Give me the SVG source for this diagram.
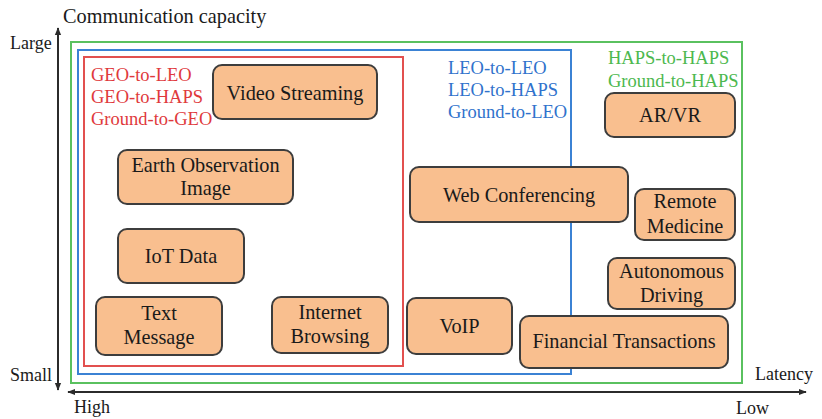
<svg xmlns="http://www.w3.org/2000/svg" width="822" height="419" viewBox="0 0 822 419" font-family="'Liberation Serif', 'DejaVu Serif', serif">
<defs>
<marker id="ah" viewBox="0 0 10 10" refX="9" refY="5" markerWidth="4" markerHeight="4" orient="auto-start-reverse" markerUnits="strokeWidth">
<path d="M0,1 L10,5 L0,9 z" fill="#2b2b2b"/>
</marker>
</defs>
<style>
.lbl{font-size:20.3px;fill:#1a1a1a;text-anchor:middle;}
.ax{font-size:18px;fill:#1a1a1a;}
.box{fill:#f9bf8f;stroke:#3d3d3d;stroke-width:2;}
.red{fill:#e0393c;font-size:18.5px;}
.blue{fill:#2f72cc;font-size:18.5px;}
.green{fill:#4cb84e;font-size:18.5px;}
.axis{stroke:#2b2b2b;stroke-width:2;fill:none;}
</style>
<rect width="822" height="419" fill="#ffffff"/>
<g id="regions">
<rect id="green-region" x="71" y="42" width="671" height="341" fill="none" stroke="#5ac15f" stroke-width="2"/>
<rect id="blue-region" x="78" y="50" width="493" height="324" fill="none" stroke="#3b82d4" stroke-width="2"/>
<rect id="red-region" x="84" y="57" width="319" height="309" fill="none" stroke="#e2504f" stroke-width="2"/>
</g>
<g id="region-labels">
<text class="red" x="91" y="81">GEO-to-LEO</text>
<text class="red" x="91" y="103">GEO-to-HAPS</text>
<text class="red" x="91" y="125">Ground-to-GEO</text>
<text class="blue" x="448" y="74">LEO-to-LEO</text>
<text class="blue" x="448" y="96">LEO-to-HAPS</text>
<text class="blue" x="448" y="118">Ground-to-LEO</text>
<text class="green" x="608" y="64">HAPS-to-HAPS</text>
<text class="green" x="608" y="87">Ground-to-HAPS</text>
</g>
<g id="connectors">
<line class="axis" x1="58" y1="390" x2="58" y2="28" marker-start="url(#ah)" marker-end="url(#ah)"/>
<line class="axis" x1="68" y1="392" x2="806" y2="392" marker-start="url(#ah)" marker-end="url(#ah)"/>
</g>
<g id="axis-labels">
<text class="ax" x="63" y="23" style="font-size:20.3px">Communication capacity</text>
<text class="ax" x="10" y="49">Large</text>
<text class="ax" x="10" y="381">Small</text>
<text class="ax" x="74" y="413">High</text>
<text class="ax" x="736" y="414">Low</text>
<text class="ax" x="755" y="380">Latency</text>
</g>
<g id="video-streaming"><rect class="box" x="213" y="65" width="164" height="54" rx="9"/><text class="lbl" x="295" y="100">Video Streaming</text></g>
<g id="earth-observation"><rect class="box" x="118" y="150" width="175" height="54" rx="9"/><text class="lbl" x="205.5" y="172">Earth Observation</text><text class="lbl" x="205.5" y="195">Image</text></g>
<g id="iot-data"><rect class="box" x="118" y="229" width="126" height="54" rx="9"/><text class="lbl" x="181" y="263">IoT Data</text></g>
<g id="text-message"><rect class="box" x="96" y="297" width="126" height="58" rx="9"/><text class="lbl" x="159" y="320">Text</text><text class="lbl" x="159" y="344">Message</text></g>
<g id="internet-browsing"><rect class="box" x="272" y="297" width="116" height="56" rx="9"/><text class="lbl" x="330" y="319">Internet</text><text class="lbl" x="330" y="343">Browsing</text></g>
<g id="web-conferencing"><rect class="box" x="410" y="167" width="218" height="55" rx="9"/><text class="lbl" x="519" y="202">Web Conferencing</text></g>
<g id="voip"><rect class="box" x="407" y="298" width="105" height="56" rx="9"/><text class="lbl" x="459.5" y="333">VoIP</text></g>
<g id="financial-transactions"><rect class="box" x="520" y="316" width="208" height="52" rx="9"/><text class="lbl" x="624" y="348">Financial Transactions</text></g>
<g id="ar-vr"><rect class="box" x="605" y="93" width="130" height="44" rx="9"/><text class="lbl" x="670" y="122">AR/VR</text></g>
<g id="remote-medicine"><rect class="box" x="635" y="189" width="100" height="51" rx="9"/><text class="lbl" x="685" y="208">Remote</text><text class="lbl" x="685" y="233">Medicine</text></g>
<g id="autonomous-driving"><rect class="box" x="608" y="258" width="127" height="51" rx="9"/><text class="lbl" x="671.5" y="278">Autonomous</text><text class="lbl" x="671.5" y="302">Driving</text></g>
</svg>
